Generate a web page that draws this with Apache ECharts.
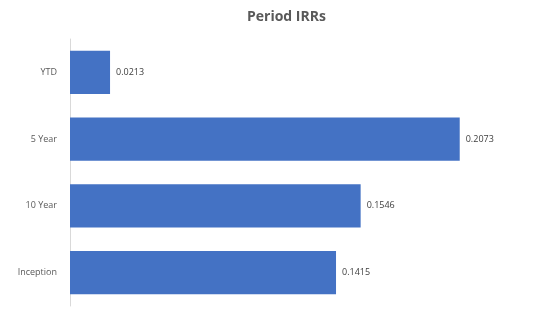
<!DOCTYPE html>
<html>
<head>
<meta charset="utf-8">
<script src="https://cdn.jsdelivr.net/npm/echarts@6/dist/echarts.min.js"></script>
<style>
  html, body { margin: 0; padding: 0; background: #fff; }
  #chart { width: 550px; height: 310px; }
</style>
</head>
<body>
<div id="chart"></div>
<script>
const categories = ['YTD', '5 Year', '10 Year', 'Inception']
const irrValues = [0.0213, 0.2073, 0.1546, 0.1415]

const chart = echarts.init(document.getElementById('chart'))

chart.setOption({
  animation: false,
  title: {
    text: 'Period IRRs',
    left: 242,
    top: 5,
    textStyle: {
      fontFamily: 'Open Sans',
      fontSize: 14,
      fontWeight: 'bold',
      color: '#595959'
    }
  },
  grid: {
    left: 70,
    right: 10,
    top: 39,
    bottom: 4
  },
  xAxis: {
    type: 'value',
    min: 0,
    max: 0.25,
    show: false
  },
  yAxis: {
    type: 'category',
    data: categories,
    inverse: true,
    axisLine: { show: true, lineStyle: { color: '#d9d9d9', width: 1 } },
    axisTick: { show: false },
    axisLabel: {
      margin: 13,
      fontFamily: 'Open Sans',
      fontSize: 9,
      color: '#595959'
    }
  },
  series: [
    {
      type: 'bar',
      data: irrValues,
      barCategoryGap: '35%',
      itemStyle: { color: '#4472C4' },
      label: {
        show: true,
        position: 'right',
        distance: 6,
        fontFamily: 'Open Sans',
        fontSize: 9,
        color: '#404040'
      }
    }
  ]
})
</script>
</body>
</html>
